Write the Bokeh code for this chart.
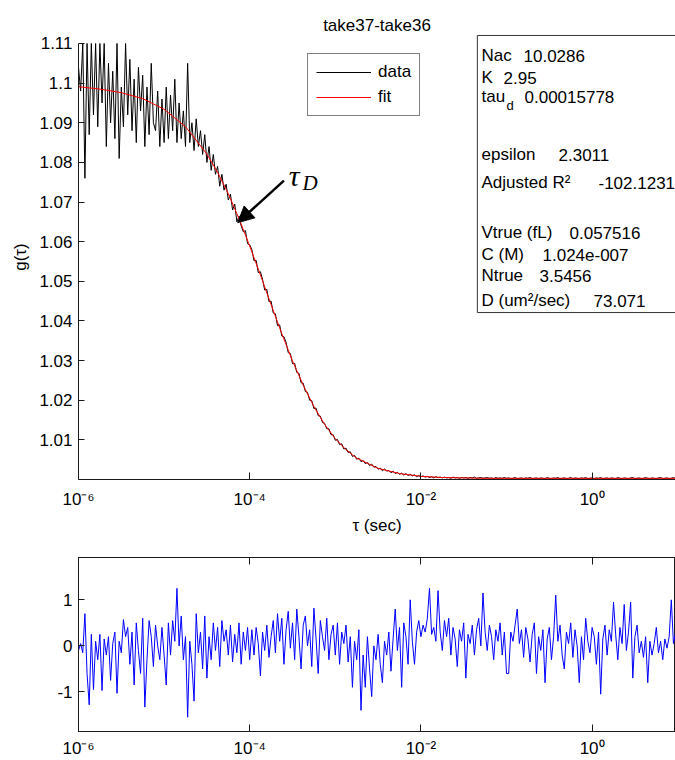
import numpy as np
from bokeh.plotting import figure
from bokeh.models import (FixedTicker, LogAxis, Legend, LegendItem, Label,
                          Arrow, NormalHead, Range1d)
from bokeh.layouts import column
from bokeh.embed import file_html
from bokeh.resources import INLINE

# ---------------- data ----------------
title_text = "take37-take36"
x_label = "τ (sec)"
y_label = "g(τ)"

# correlator lag times: log-spaced from 1e-6 s to 10 s
lag_log_start, lag_log_stop = -6.0, 1.0

# measured correlation (values that run off the top of the axes are read as 1.11)
data_g = [
    1.1040, 1.0980, 1.1100, 1.0760, 1.1100, 1.0870, 1.1100, 1.0920, 1.1100, 1.0890,
    1.1100, 1.0950, 1.1100, 1.0840, 1.1050, 1.0900, 1.1030, 1.0860, 1.1100, 1.0810,
    1.0990, 1.0890, 1.1100, 1.0920, 1.1060, 1.0880, 1.1010, 1.0850, 1.1040, 1.0930,
    1.1020, 1.0840, 1.0990, 1.0870, 1.1050, 1.0900, 1.0880, 1.0980, 1.0840, 1.0960,
    1.0850,
    1.0990, 1.0860, 1.0970, 1.0880, 1.1010, 1.0850, 1.0950, 1.0860, 1.0930, 1.0840,
    1.1050, 1.0850, 1.0900, 1.0830, 1.0910, 1.0840, 1.0880, 1.0820, 1.0870, 1.0800,
    1.0840, 1.0780, 1.0820, 1.0770, 1.0790, 1.0740, 1.0770, 1.0730, 1.0745, 1.0705,
    1.0720, 1.0680, 1.0695, 1.0650, 1.0665, 1.0640, 1.0625, 1.0628, 1.0595, 1.0592,
    1.0580, 1.0552, 1.0553, 1.0522, 1.0524, 1.0505, 1.0478, 1.0480, 1.0449, 1.0450,
    1.0420, 1.0418, 1.0388, 1.0390, 1.0362, 1.0360, 1.0346, 1.0320, 1.0318, 1.0292,
    1.0293, 1.0270, 1.0268, 1.0244, 1.0243, 1.0222, 1.0220, 1.0200, 1.0199, 1.0179,
    1.0180, 1.0161, 1.0160, 1.0144, 1.0142, 1.0128, 1.0128, 1.0113, 1.0113, 1.0099,
    1.0101, 1.0088, 1.0090, 1.0077, 1.0079, 1.0068, 1.0070, 1.0058, 1.0061, 1.0051,
    1.0054, 1.0045, 1.0048, 1.0040, 1.0043, 1.0035, 1.0039, 1.0031, 1.0033, 1.0026,
    1.0029, 1.0022, 1.0027, 1.0021, 1.0023, 1.0017, 1.0021, 1.0015, 1.0018, 1.0013,
    1.0016, 1.0011, 1.0015, 1.0010, 1.0013, 1.0009, 1.0012, 1.0007, 1.0010, 1.0007,
    1.0009, 1.0006, 1.0008, 1.0005, 1.0007, 1.0004, 1.0007, 1.0005, 1.0006, 1.0004,
    1.0006, 1.0004, 1.0005, 1.0003, 1.0006, 1.0004, 1.0005, 1.0003, 1.0005, 1.0004,
    1.0005, 1.0003, 1.0005, 1.0004, 1.0006, 1.0003, 1.0004, 1.0005, 1.0003, 1.0004,
    1.0005, 1.0003, 1.0004, 1.0002, 1.0005, 1.0003, 1.0004, 1.0003, 1.0005, 1.0003,
    1.0004, 1.0002, 1.0003, 1.0005, 1.0002, 1.0003, 1.0004, 1.0002, 1.0004, 1.0003,
    1.0005, 1.0002, 1.0003, 1.0004, 1.0002, 1.0004, 1.0003, 1.0002, 1.0005, 1.0003,
    1.0002, 1.0004, 1.0003, 1.0005, 1.0002, 1.0003, 1.0004, 1.0002, 1.0003, 1.0005,
    1.0002, 1.0004, 1.0003, 1.0002, 1.0004, 1.0003, 1.0005, 1.0002, 1.0003, 1.0004,
    1.0002, 1.0004, 1.0003, 1.0005, 1.0002, 1.0003, 1.0004, 1.0002, 1.0004, 1.0003,
    1.0002, 1.0005, 1.0003, 1.0002, 1.0004, 1.0003, 1.0002, 1.0004, 1.0005, 1.0002,
    1.0003, 1.0004, 1.0002, 1.0003, 1.0005, 1.0003, 1.0002, 1.0004, 1.0003, 1.0002,
    1.0004, 1.0005, 1.0002, 1.0003, 1.0004, 1.0002, 1.0003, 1.0005, 1.0002, 1.0004,
]

residuals = [
    -0.10, 0.05, -0.15, 0.70, -0.60, -1.28, 0.25, -0.95, 0.10, -0.30,
    0.25, -0.97, 0.15, -0.20, 0.20, -0.75, 0.05, 0.30, -1.03, 0.10,
    -0.15, 0.57, 0.20, 0.40, -0.40, 0.30, -0.85, 0.50, -0.10, -0.60,
    0.60, -1.33, -0.30, 0.55, 0.20, -0.45, 0.45, 0.00, -0.30, 0.40,
    -0.20,
    -0.85, 0.50, -0.20, 0.55, 0.10, 1.25, 0.00, 0.65, -0.30, 0.20,
    -1.55, 0.10, -0.40, -1.20, 0.70, -0.15, 0.30, -0.50, 0.65, -0.70,
    0.20, -0.30, 0.50, -0.10, 0.40, -0.45, 0.55, 0.10, 0.35, -0.20,
    0.45, -0.35, 0.25, -0.15, 0.50, -0.40, 0.30, -0.10, 0.40, -0.30,
    0.35, -0.20, 0.40, 0.05, -0.65, 0.30, -0.10, 0.45, -0.25, 0.20,
    0.55, -0.15, 0.70, 0.10, 0.60, -0.40, 0.35, 0.75, -0.05, 0.50,
    -0.30, 0.80, 0.20, -0.50, 0.45, 0.65, 0.00, 0.35, -0.45, 0.82,
    0.15, -0.60, 0.55, 0.20, -0.10, 0.60, -0.30, 0.25, 0.45, -0.20,
    0.50, -0.40, 0.30, 0.05, 0.45, -0.35, 0.20, -0.90, 0.10, -0.30,
    0.35, -1.40, -0.20, -0.90, 0.20, -0.50, -1.10, 0.00, -0.30, 0.25,
    -0.40, -0.80, 0.10, -0.20, 0.30, -0.55, 0.15, 0.80, -0.10, 0.40,
    -0.90, 0.50, 0.20, -0.40, 1.00, 0.10, -0.40, 0.30, 0.55, 0.20,
    0.45, 0.30, 0.60, 1.25, 0.25, 0.40, 0.10, 1.20, 0.30, -0.10,
    0.55, 0.20, 0.60, -0.20, 0.40, 0.15, -0.45, 0.35, 0.10, 0.50,
    -0.70, 0.25, 0.05, 0.45, -0.20, 0.35, 0.60, 0.00, 1.15, 0.30,
    -0.10, 0.45, 0.20, -0.30, 0.35, 0.10, 0.50, -0.20, 0.30, -0.60,
    -0.60, 0.30, 0.10, 0.45, 0.80, 0.05, 0.35, -0.25, 0.40, 0.15,
    -0.35, 0.25, 0.50, -0.60, 0.20, -0.10, 0.35, -0.80, 0.15, 0.40,
    -0.30, 0.20, 1.10, 0.10, 0.45, -0.20, -0.50, 0.30, 0.05, 0.50,
    -0.25, 0.35, 0.00, -0.80, 0.20, -0.30, 0.60, 0.10, -0.15, 0.40,
    0.20, -0.40, 0.30, -1.05, 0.15, 0.45, -0.20, 0.35, 0.10, 0.95,
    0.25, -0.30, 0.40, 0.05, 0.90, -0.10, 0.30, 0.95, -0.70, 0.20,
    0.45, -0.15, 0.10, -0.25, 0.20, -0.80, 0.10, -0.20, 0.05, 0.40,
    -0.15, 0.10, -0.30, 0.15, -0.05, 0.20, 1.00, 0.05, 0.30, -0.40,
]

fit_log_tau = [-6.0, -5.75, -5.5, -5.25, -5.0, -4.75, -4.5, -4.375, -4.25, -4.125,
               -4.0, -3.875, -3.75, -3.625, -3.5, -3.375, -3.25, -3.125, -3.0, -2.875,
               -2.75, -2.5, -2.25, -2.0, -1.75, -1.5, -1.25, -1.0, 0.0, 1.0]
fit_g = [1.0991, 1.0985, 1.0976, 1.0961, 1.0934, 1.0890, 1.0821, 1.0775, 1.0721, 1.0658,
         1.0589, 1.0516, 1.0441, 1.0368, 1.0299, 1.0238, 1.0184, 1.0139, 1.0103, 1.0075,
         1.0054, 1.0028, 1.0015, 1.0008, 1.0005, 1.0004, 1.0003, 1.0003, 1.0003, 1.0003]

x_tick_values = [1e-6, 1e-4, 1e-2, 1e0]
x_tick_labels = ["10⁻⁶", "10⁻⁴", "10⁻²", "10⁰"]
y_tick_values = [1.01, 1.02, 1.03, 1.04, 1.05, 1.06, 1.07, 1.08, 1.09, 1.10, 1.11]
y_tick_labels = ["1.01", "1.02", "1.03", "1.04", "1.05", "1.06", "1.07", "1.08", "1.09", "1.1", "1.11"]
res_tick_values = [-1, 0, 1]
res_tick_labels = ["-1", "0", "1"]

stat_names = ["Nac", "K", "tau", "epsilon", "Adjusted R²", "Vtrue (fL)", "C (M)", "Ntrue", "D (um²/sec)"]
stat_values = ["10.0286", "2.95", "0.00015778", "2.3011", "-102.1231", "0.057516", "1.024e-007", "3.5456", "73.071"]

legend_labels = ["data", "fit"]

# ---------------- drawing ----------------
FONT = "Liberation Sans"
FS = "17px"

tau_data = np.logspace(lag_log_start, lag_log_stop, len(data_g))
tau_res = np.logspace(lag_log_start, lag_log_stop, len(residuals))
tau_fit = 10.0 ** np.array(fit_log_tau)

x_end = 10 ** 0.974
g_axis_min, g_axis_max = 1.0, 1.11
g_view_top = g_axis_max + 0.00227   # headroom above the axes for the statistics box


def style_axis(ax, tick_in=6):
    ax.axis_line_color = "#1a1a1a"
    ax.axis_line_width = 1
    ax.major_tick_line_color = "#1a1a1a"
    ax.major_tick_in = tick_in
    ax.major_tick_out = 0
    ax.minor_tick_line_color = None
    ax.major_label_text_font = FONT
    ax.major_label_text_font_size = FS
    ax.major_label_text_color = "black"
    ax.axis_label_text_font = FONT
    ax.axis_label_text_font_size = FS
    ax.axis_label_text_font_style = "normal"
    ax.axis_label_text_color = "black"


# --- top panel
p = figure(width=675, height=538, x_axis_type="log",
           x_range=Range1d(1e-6, x_end), y_range=Range1d(g_axis_min, g_view_top),
           output_backend="svg", toolbar_location=None,
           min_border_left=78, min_border_right=0, min_border_top=34, min_border_bottom=59)
p.outline_line_color = None
p.grid.visible = False
p.background_fill_color = "white"
p.title.text = title_text
p.title.align = "center"
p.title.text_font = FONT
p.title.text_font_size = FS
p.title.text_font_style = "normal"
p.title.text_color = "black"
p.title.standoff = 0

r_data = p.line(tau_data, data_g, line_color="black", line_width=1)
r_fit = p.line(tau_fit, fit_g, line_color="red", line_width=1)

xa = p.xaxis[0]
xa.ticker = FixedTicker(ticks=x_tick_values)
xa.major_label_overrides = dict(zip(x_tick_values, x_tick_labels))
style_axis(xa, tick_in=7)
xa.axis_label = x_label
xa.major_label_standoff = 10
xa.axis_label_standoff = 4

ya = p.yaxis[0]
ya.ticker = FixedTicker(ticks=y_tick_values)
ya.major_label_overrides = dict(zip(y_tick_values, y_tick_labels))
ya.bounds = (g_axis_min, g_axis_max)
style_axis(ya, tick_in=6)
ya.axis_label = y_label
ya.major_label_standoff = 6
ya.axis_label_standoff = 6

legend = Legend(items=[LegendItem(label=legend_labels[0], renderers=[r_data]),
                       LegendItem(label=legend_labels[1], renderers=[r_fit])],
                location=(229, 363), orientation="vertical",
                padding=8, spacing=5, margin=0, label_standoff=7,
                glyph_width=55, glyph_height=20, label_height=20,
                label_text_font=FONT, label_text_font_size=FS, label_text_color="black",
                border_line_color="black", border_line_width=1,
                background_fill_color="white", background_fill_alpha=1.0)
p.add_layout(legend)


# screen helpers (frame-relative, y up); frame left at page x=78, frame bottom at page y=479
def sx(px):
    return px - 78


def sy(py):
    return 479 - py


# statistics box (a blank label with padding draws the frame)
p.add_layout(Label(x=sx(578), y=sy(173.5), x_units="screen", y_units="screen", text=" ",
                   text_font=FONT, text_font_size="1px", text_align="center", text_baseline="middle",
                   padding=dict(left=101, right=101, top=138, bottom=138),
                   background_fill_color="white", background_fill_alpha=1.0,
                   border_line_color="#333333", border_line_width=1))

name_pos = [(481, 55), (481, 77), (481, 96), (481, 154), (481, 182), (481, 232), (481, 254), (481, 275), (481, 300)]
value_x = [523, 503, 524, 558, 598, 569, 542, 539, 593]
for (nx, ny), vx, nm, vl in zip(name_pos, value_x, stat_names, stat_values):
    for tx, txt in ((nx, nm), (vx, vl)):
        p.add_layout(Label(x=sx(tx), y=sy(ny), x_units="screen", y_units="screen", text=txt,
                           text_font=FONT, text_font_size=FS, text_color="black",
                           text_align="left", text_baseline="alphabetic"))
# subscript d of tau_d
p.add_layout(Label(x=sx(506), y=sy(105), x_units="screen", y_units="screen", text="d",
                   text_font=FONT, text_font_size="13px", text_color="black",
                   text_align="left", text_baseline="alphabetic"))

# tau_D annotation with arrow
p.add_layout(Arrow(end=NormalHead(size=16, fill_color="black", line_color="black"),
                   x_start=10 ** -3.60, y_start=1.0754, x_end=10 ** -4.14, y_end=1.0648,
                   line_color="black", line_width=2.5))
p.add_layout(Label(x=10 ** -3.545, y=1.0767, text="τ", text_font="Liberation Serif",
                   text_font_style="italic", text_font_size="30px", text_color="black",
                   text_align="left", text_baseline="alphabetic"))
p.add_layout(Label(x=10 ** -3.383, y=1.0749, text="D", text_font="Liberation Serif",
                   text_font_style="italic", text_font_size="21px", text_color="black",
                   text_align="left", text_baseline="alphabetic"))

# --- bottom panel (residuals)
q = figure(width=675, height=222, x_axis_type="log",
           x_range=p.x_range, y_range=Range1d(-1.86, 1.92),
           output_backend="svg", toolbar_location=None,
           min_border_left=78, min_border_right=0, min_border_top=19, min_border_bottom=28)
q.outline_line_color = "#1a1a1a"
q.grid.visible = False
q.line(tau_res, residuals, line_color="blue", line_width=1)

qx = q.xaxis[0]
qx.ticker = FixedTicker(ticks=x_tick_values)
qx.major_label_overrides = dict(zip(x_tick_values, x_tick_labels))
style_axis(qx, tick_in=7)
qx.major_label_standoff = 7

qy = q.yaxis[0]
qy.ticker = FixedTicker(ticks=res_tick_values)
qy.major_label_overrides = dict(zip(res_tick_values, res_tick_labels))
style_axis(qy, tick_in=6)
qy.major_label_standoff = 6

top_ax = LogAxis(ticker=FixedTicker(ticks=x_tick_values))
style_axis(top_ax, tick_in=7)
top_ax.major_label_text_font_size = "8px"
top_ax.major_label_text_alpha = 0.0
top_ax.major_label_standoff = 0
q.add_layout(top_ax, "above")

layout = column(p, q, spacing=0)
open("out.html", "w").write(file_html(layout, INLINE))
